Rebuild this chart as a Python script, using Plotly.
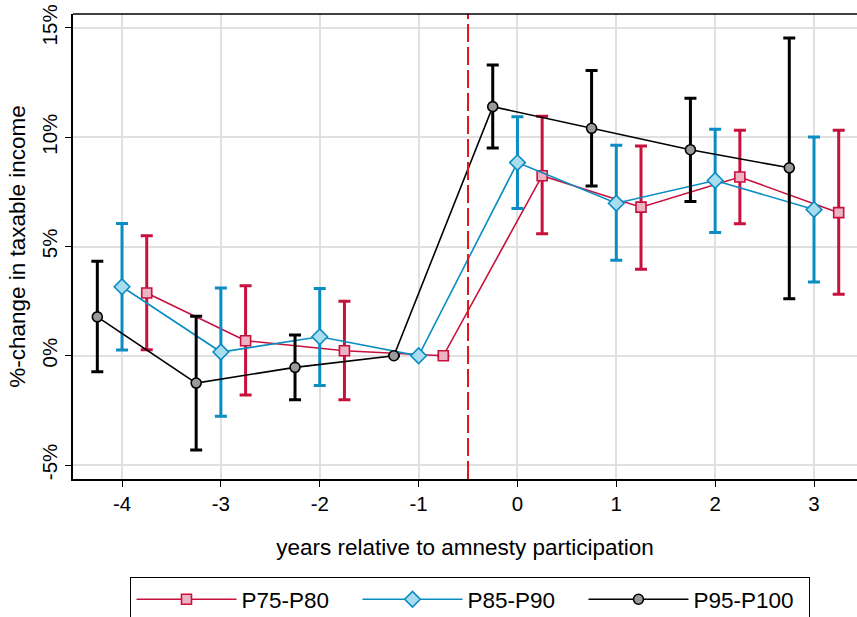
import plotly.graph_objects as go

# Data (in %)
years = [-4, -3, -2, -1, 0, 1, 2, 3]

p75_est = [2.87, 0.69, 0.23, 0.0, 8.24, 6.80, 8.18, 6.55]
p75_hi = [5.49, 3.20, 2.50, 0.0, 10.96, 9.60, 10.32, 10.32]
p75_lo = [0.27, -1.80, -2.01, 0.0, 5.58, 3.96, 6.04, 2.82]

p85_est = [3.16, 0.17, 0.87, 0.0, 8.84, 6.98, 8.02, 6.69]
p85_hi = [6.05, 3.10, 3.08, 0.0, 10.94, 9.63, 10.37, 10.01]
p85_lo = [0.26, -2.77, -1.36, 0.0, 6.74, 4.37, 5.64, 3.38]

p95_est = [1.78, -1.25, -0.53, 0.0, 11.40, 10.41, 9.43, 8.60]
p95_hi = [4.33, 1.81, 0.95, 0.0, 13.31, 13.06, 11.78, 14.54]
p95_lo = [-0.73, -4.31, -2.01, 0.0, 9.51, 7.77, 7.06, 2.61]

tick_vals_y = [-5, 0, 5, 10, 15]
tick_text_y = ["-5%", "0%", "5%", "10%", "15%"]
tick_vals_x = [-4, -3, -2, -1, 0, 1, 2, 3]
tick_text_x = ["-4", "-3", "-2", "-1", "0", "1", "2", "3"]

FONT = "Liberation Sans, Arial, sans-serif"

series = [
    ("P75-P80", 0.25, p75_est, p75_hi, p75_lo, "#c8103c", "#ecb3c4", "square"),
    ("P85-P90", 0.0, p85_est, p85_hi, p85_lo, "#0a8dc2", "#a9dcef", "diamond"),
    ("P95-P100", -0.25, p95_est, p95_hi, p95_lo, "#000000", "#9a9a9a", "circle"),
]

fig = go.Figure()
for name, off, est, hi, lo, col, fill, sym in series:
    xs = [y + off for y in years]
    plus = [h - e for h, e in zip(hi, est)]
    minus = [e - l for e, l in zip(est, lo)]
    fig.add_trace(go.Scatter(
        x=xs, y=est, mode="markers", showlegend=False, hoverinfo="skip",
        marker=dict(size=1, color="rgba(0,0,0,0)"),
        error_y=dict(type="data", symmetric=False, array=plus, arrayminus=minus,
                     color=col, thickness=3, width=6),
    ))
    fig.add_trace(go.Scatter(
        x=xs, y=est, mode="lines+markers", name=name,
        line=dict(color=col, width=1.6),
        marker=dict(symbol=sym, size=10 if sym != "diamond" else 12, color=fill,
                    line=dict(color=col, width=1.6)),
    ))

fig.add_hline(y=0, line=dict(color="black", width=1.2), layer="below")
fig.add_vline(x=-0.5, line=dict(color="#e3161b", width=2, dash="18px,5px"))
fig.add_shape(type="line", xref="paper", yref="paper", x0=0, x1=1, y0=1, y1=1,
              line=dict(color="black", width=1.5))

fig.update_layout(
    width=857, height=617,
    margin=dict(l=73, r=0, t=14, b=138, autoexpand=False),
    paper_bgcolor="white", plot_bgcolor="white",
    font=dict(family=FONT, size=22, color="black"),
    showlegend=True,
    legend=dict(orientation="h", x=0.507, xanchor="center", y=-0.211, yanchor="top",
                bordercolor="black", borderwidth=1, font=dict(size=22.5),
                itemwidth=100, entrywidth=111, entrywidthmode="pixels",
                tracegroupgap=0),
    xaxis=dict(range=[-4.496, 3.435], tickvals=tick_vals_x, ticktext=tick_text_x,
               showgrid=True, gridcolor="#e0e0e0", gridwidth=1.5,
               zeroline=False, showline=True, linecolor="black", linewidth=1.5,
               ticks="outside", ticklen=6, tickcolor="black", automargin=False,
               title=dict(text="years relative to amnesty participation", standoff=25,
                          font=dict(size=22.5)),
               tickfont=dict(size=20.5)),
    yaxis=dict(range=[-5.64, 15.64], tickvals=tick_vals_y, ticktext=tick_text_y,
               showgrid=True, gridcolor="#e0e0e0", gridwidth=1.5,
               zeroline=False, showline=True, linecolor="black", linewidth=1.5,
               ticks="outside", ticklen=6, tickcolor="black", tickangle=-90,
               automargin=False, ticklabeloverflow="allow",
               title=dict(text="%-change in taxable income", standoff=6,
                          font=dict(size=22.5)),
               tickfont=dict(size=20.5)),
)

fig.write_html("out.html", post_script="document.body.style.margin='0';",
               config={"displayModeBar": False})
